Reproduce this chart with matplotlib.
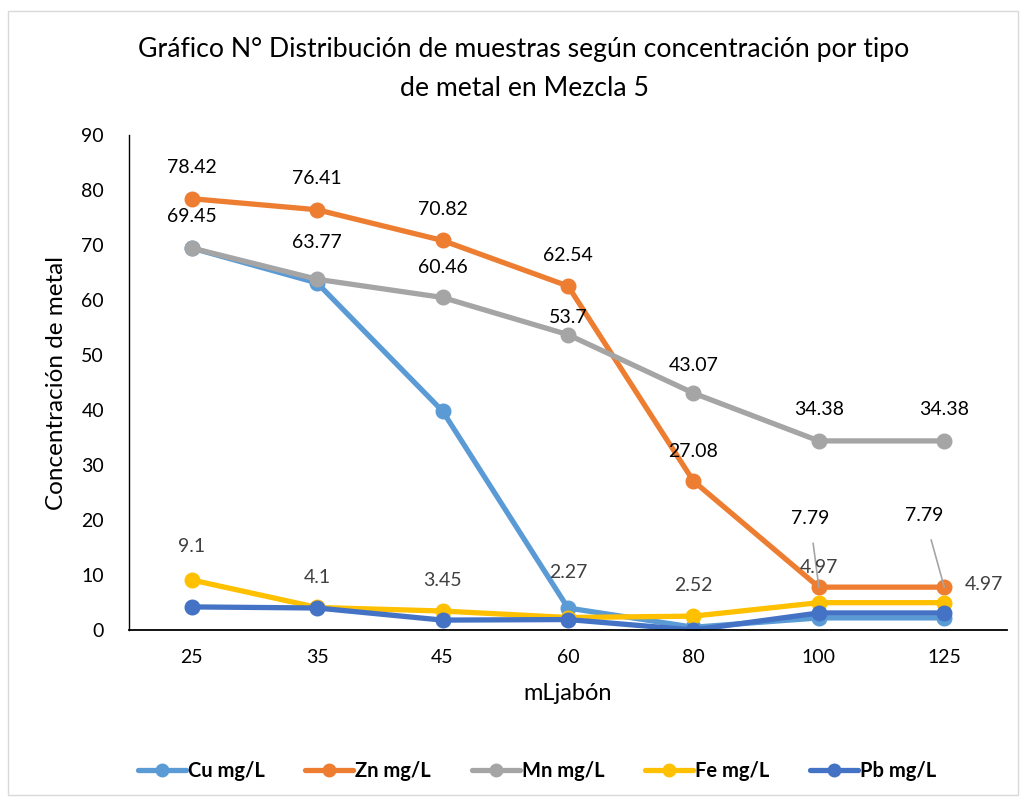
import matplotlib
matplotlib.use("Agg")
import matplotlib.pyplot as plt
from matplotlib.patches import Rectangle

plt.rcParams['font.family'] = ['Lato', 'DejaVu Sans']

categories = ["25", "35", "45", "60", "80", "100", "125"]
cu = [69.45, 63.1, 39.8, 4.0, 0.5, 2.2, 2.2]
zn = [78.42, 76.41, 70.82, 62.54, 27.08, 7.79, 7.79]
mn = [69.45, 63.77, 60.46, 53.7, 43.07, 34.38, 34.38]
fe = [9.1, 4.1, 3.45, 2.27, 2.52, 4.97, 4.97]
pb = [4.2, 4.0, 1.8, 1.9, 0.0, 3.1, 3.1]

series = [
    ("Cu mg/L", cu, "#5B9BD5"),
    ("Zn mg/L", zn, "#ED7D31"),
    ("Mn mg/L", mn, "#A5A5A5"),
    ("Fe mg/L", fe, "#FFC000"),
    ("Pb mg/L", pb, "#4472C4"),
]

fig = plt.figure(figsize=(10.23, 8.01), dpi=100)
fig.patches.append(Rectangle((8/1023, 1-795/801), 1010/1023, 784/801,
                             transform=fig.transFigure, fill=False,
                             edgecolor="#D9D9D9", linewidth=1))
ax = fig.add_axes([129/1023, 1-630/801, 878/1023, 495/801])

x = list(range(len(categories)))
for name, vals, col in series:
    ax.plot(x, vals, color=col, linewidth=3.8, marker='o', markersize=10.5,
            label=name, solid_capstyle='round')

ax.set_xlim(-0.5, len(categories) - 0.5)
ax.set_ylim(0, 90)
ax.set_yticks(range(0, 91, 10))
ax.set_xticks(x)
ax.set_xticklabels(categories)
ax.tick_params(axis='both', length=0, labelsize=14, colors='black')
ax.tick_params(axis='x', pad=14)
ax.tick_params(axis='y', pad=18)
for s in ['top', 'right']:
    ax.spines[s].set_visible(False)
ax.spines['left'].set_color('black')
ax.spines['bottom'].set_color('black')
ax.spines['left'].set_linewidth(1)
ax.spines['bottom'].set_linewidth(1.3)

ax.set_xlabel("mLjabón", fontsize=17, labelpad=12)
ax.set_ylabel("Concentración de metal", fontsize=17.5, labelpad=10)

fig.text(524/1023, 1-50/801, "Gráfico N° Distribución de muestras según concentración por tipo",
         ha='center', va='center', fontsize=19.2)
fig.text(524/1023, 1-88/801, "de metal en Mezcla 5", ha='center', va='center', fontsize=19.2)

lab_fs = 14
# Zn labels
zn_off = [31, 31, 31, 31, 30]
for i in range(5):
    v = zn[i]
    ax.annotate(f"{v:g}", (i, v), xytext=(0, zn_off[i]), textcoords='offset pixels',
                ha='center', va='center', fontsize=lab_fs, color='black')
# leader-line labels for Zn at 100 and 125
for i, dx, dy in [(5, -9, 69), (6, -20, 72)]:
    ax.annotate(f"{zn[i]:g}", (i, zn[i]), xytext=(dx, dy), textcoords='offset pixels',
                ha='center', va='center', fontsize=lab_fs, color='black',
                arrowprops=dict(arrowstyle='-', color='#A6A6A6', lw=1.2, shrinkA=10, shrinkB=0))
# Mn labels
mn_off = [32, 37, 30, 17, 28, 31, 31]
for i, v in enumerate(mn):
    ax.annotate(f"{v:g}", (i, v), xytext=(0, mn_off[i]), textcoords='offset pixels',
                ha='center', va='center', fontsize=lab_fs, color='black')
# Fe labels
fe_off = [(0, 33), (0, 30), (0, 31), (0, 45), (0, 31), (0, 35), (40, 18)]
for i, v in enumerate(fe):
    dx, dy = fe_off[i]
    ax.annotate(f"{v:g}", (i, v), xytext=(dx, dy), textcoords='offset pixels',
                ha='center', va='center', fontsize=lab_fs, color='#404040')

leg = fig.legend(loc='center', bbox_to_anchor=(537/1023, 1-771/801), ncol=5,
                 frameon=False, prop={'weight': 'bold', 'size': 14.5},
                 handlelength=2.4, columnspacing=2.0, handletextpad=0.1)
for h in leg.legend_handles:
    h.set_markersize(9)

fig.savefig("out.png", dpi=100)
